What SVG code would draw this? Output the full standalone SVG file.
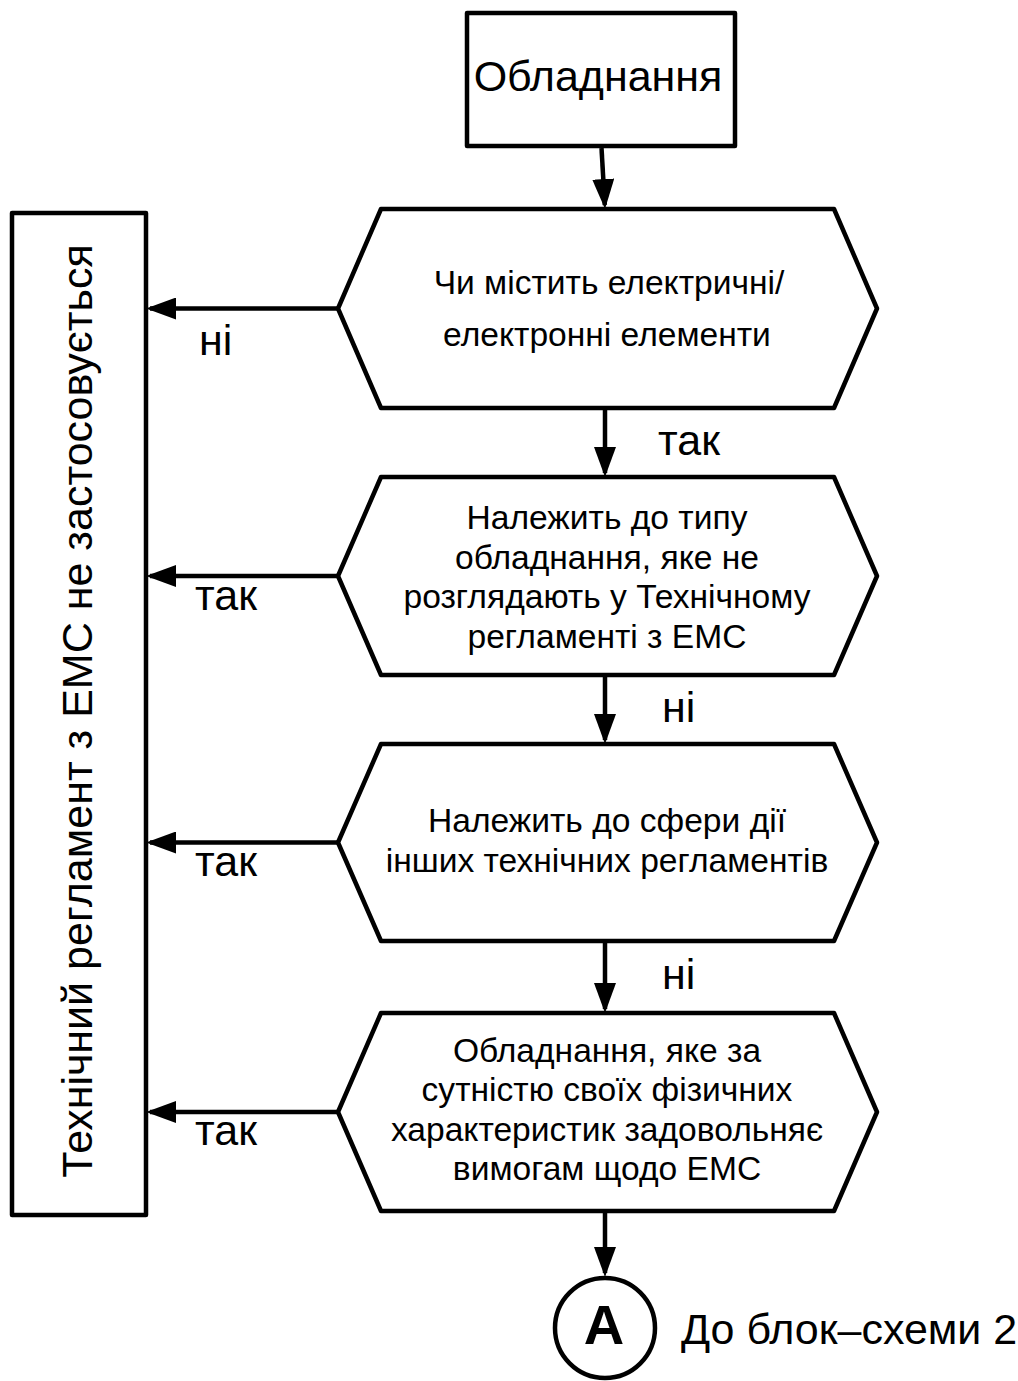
<svg xmlns="http://www.w3.org/2000/svg" width="1018" height="1381" viewBox="0 0 1018 1381">
<style>
  .shape { fill: #fff; stroke: #000; stroke-width: 4.5; stroke-linejoin: round; }
  .conn { fill: none; stroke: #000; stroke-width: 4.5; marker-end: url(#arrow); }
  .t { font-family: "Liberation Sans", Arial, sans-serif; fill: #000; }
  .big { font-size: 43px; }
  .mid { font-size: 33.6px; }
  .c { text-anchor: middle; }
</style>
<defs>
  <marker id="arrow" markerUnits="userSpaceOnUse" markerWidth="30" markerHeight="22" viewBox="0 0 30 22" refX="26" refY="11" orient="auto">
    <path d="M0,0 L30,11 L0,22 z" fill="#000"/>
  </marker>
</defs>
<rect width="1018" height="1381" fill="#fff"/>

<g id="connectors">
  <line class="conn" x1="601.5" y1="148" x2="604.8" y2="205"/>
  <line class="conn" x1="605" y1="408" x2="605" y2="473"/>
  <line class="conn" x1="605" y1="675" x2="605" y2="740"/>
  <line class="conn" x1="605" y1="941" x2="605" y2="1009"/>
  <line class="conn" x1="605" y1="1211" x2="605" y2="1273"/>
  <line class="conn" x1="338" y1="308.5" x2="150" y2="308.5"/>
  <line class="conn" x1="338" y1="576" x2="150" y2="576"/>
  <line class="conn" x1="338" y1="842.5" x2="150" y2="842.5"/>
  <line class="conn" x1="338" y1="1112" x2="150" y2="1112"/>
  <text class="t big" x="199" y="355">ні</text>
  <text class="t big" x="195" y="610">так</text>
  <text class="t big" x="195" y="876">так</text>
  <text class="t big" x="195" y="1145">так</text>
  <text class="t big" x="658" y="455">так</text>
  <text class="t big" x="662" y="722">ні</text>
  <text class="t big" x="662" y="989">ні</text>
</g>

<g id="start">
  <rect class="shape" x="467" y="13" width="268" height="133"/>
  <text class="t big c" x="598" y="91">Обладнання</text>
</g>

<g id="q1">
  <polygon class="shape" points="381,209 834,209 877,308.5 834,408 381,408 338,308.5"/>
  <text class="t mid c" x="609" y="294">Чи містить електричні/</text>
  <text class="t mid c" x="607" y="346">електронні елементи</text>
</g>

<g id="q2">
  <polygon class="shape" points="381,477 834,477 877,576 834,675 381,675 338,576"/>
  <text class="t mid c" x="607" y="529">Належить до типу</text>
  <text class="t mid c" x="607" y="568.5">обладнання, яке не</text>
  <text class="t mid c" x="607" y="608">розглядають у Технічному</text>
  <text class="t mid c" x="607" y="647.5">регламенті з ЕМС</text>
</g>

<g id="q3">
  <polygon class="shape" points="381,744 834,744 877,842.5 834,941 381,941 338,842.5"/>
  <text class="t mid c" x="607" y="832">Належить до сфери дії</text>
  <text class="t mid c" x="607" y="872">інших технічних регламентів</text>
</g>

<g id="q4">
  <polygon class="shape" points="381,1013 834,1013 877,1112 834,1211 381,1211 338,1112"/>
  <text class="t mid c" x="607" y="1062">Обладнання, яке за</text>
  <text class="t mid c" x="607" y="1101">сутністю своїх фізичних</text>
  <text class="t mid c" x="607" y="1141">характеристик задовольняє</text>
  <text class="t mid c" x="607" y="1180">вимогам щодо ЕМС</text>
</g>

<g id="not-applicable">
  <rect class="shape" x="12" y="213" width="134" height="1002"/>
  <text class="t big c" transform="translate(92,711) rotate(-90)">Технічний регламент з ЕМС не застосовується</text>
</g>

<g id="connector-A">
  <circle class="shape" cx="605" cy="1328" r="50"/>
  <text class="t c" x="604" y="1344" font-size="56" font-weight="bold">A</text>
  <text class="t big" x="681" y="1344">До блок–схеми 2</text>
</g>
</svg>
